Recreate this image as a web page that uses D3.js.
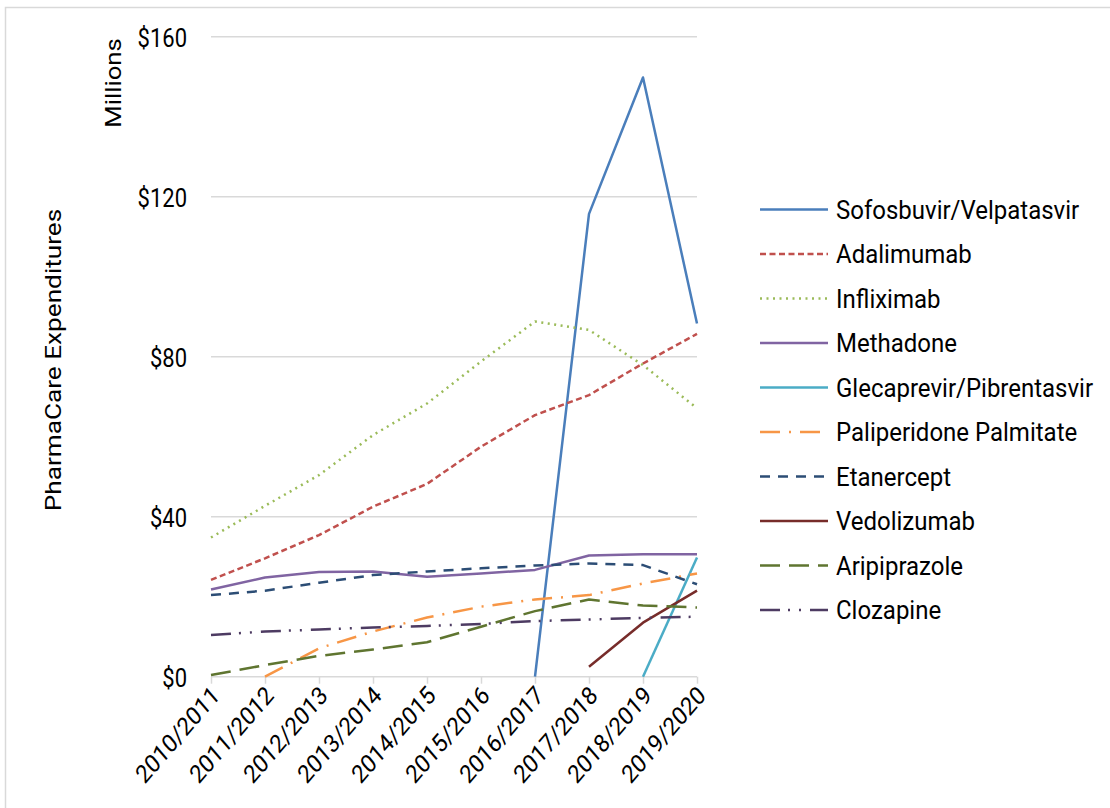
<!DOCTYPE html>
<html>
<head>
<meta charset="utf-8">
<script src="https://cdn.jsdelivr.net/npm/d3@7"></script>
<style>
  html, body { margin: 0; padding: 0; background: #fff; }
  svg { display: block; font-family: Roboto, "Noto Sans", sans-serif; }
</style>
</head>
<body>
<svg id="chart" width="1110" height="808"></svg>
<script>
// Fiscal years on the category axis
const years = ["2010/2011", "2011/2012", "2012/2013", "2013/2014", "2014/2015",
               "2015/2016", "2016/2017", "2017/2018", "2018/2019", "2019/2020"];

// Y-axis tick values (millions of dollars)
const yTicks = [0, 40, 80, 120, 160];

// Expenditures per drug, in millions (null = no spending reported)
const sofosbuvirVelpatasvir = [null, null, null, null, null, null, 0, 115.7, 149.8, 88.3];
const adalimumab            = [24.2, 29.6, 35.4, 42.5, 48.2, 57.5, 65.4, 70.4, 78.3, 85.7];
const infliximab            = [34.8, 42.7, 50.4, 60.4, 68.3, 78.8, 88.8, 86.7, 77.9, 67.1];
const methadone             = [21.8, 24.8, 26.2, 26.3, 25.0, 25.8, 26.7, 30.3, 30.6, 30.6];
const glecaprevirPibrentasvir = [null, null, null, null, null, null, null, null, 0, 29.8];
const paliperidonePalmitate = [null, 0, 7.1, 11.3, 14.8, 17.5, 19.3, 20.4, 23.3, 25.8];
const etanercept            = [20.4, 21.5, 23.5, 25.4, 26.3, 27.1, 27.8, 28.3, 27.9, 23.1];
const vedolizumab           = [null, null, null, null, null, null, null, 2.5, 13.5, 21.5];
const aripiprazole          = [0.4, 2.9, 5.2, 6.8, 8.6, 12.5, 16.4, 19.3, 17.8, 17.3];
const clozapine             = [10.4, 11.3, 11.8, 12.3, 12.7, 13.2, 13.9, 14.3, 14.7, 15.0];

const seriesNames = ["Sofosbuvir/Velpatasvir", "Adalimumab", "Infliximab", "Methadone",
  "Glecaprevir/Pibrentasvir", "Paliperidone Palmitate", "Etanercept", "Vedolizumab",
  "Aripiprazole", "Clozapine"];
const seriesValues = [sofosbuvirVelpatasvir, adalimumab, infliximab, methadone,
  glecaprevirPibrentasvir, paliperidonePalmitate, etanercept, vedolizumab,
  aripiprazole, clozapine];

// Line styles for each series
const styles = [
  { color: "#4a7ebb", dash: null },
  { color: "#c0504d", dash: "6,3.5" },
  { color: "#9bbb59", dash: "2,4.5" },
  { color: "#8064a2", dash: null },
  { color: "#4bacc6", dash: null },
  { color: "#f79646", dash: "20,9,2,9" },
  { color: "#2c4d75", dash: "10,8" },
  { color: "#772c2a", dash: null },
  { color: "#5f7530", dash: "20,9" },
  { color: "#4d3b62", dash: "20,8,2,9,2,9" }
];

const svg = d3.select("#chart");

// Outer chart frame
svg.append("rect")
  .attr("x", 5.5).attr("y", 7.5)
  .attr("width", 1120).attr("height", 820)
  .attr("fill", "none").attr("stroke", "#d9d9d9").attr("stroke-width", 1.5);

const plot = { left: 211, right: 697, top: 36.7, bottom: 676.7 };

const x = d3.scalePoint().domain(years).range([plot.left, plot.right]);
const y = d3.scaleLinear().domain([0, 160]).range([plot.bottom, plot.top]);

// Horizontal gridlines
svg.append("g")
  .selectAll("line")
  .data(yTicks.filter(d => d > 0))
  .join("line")
  .attr("x1", plot.left).attr("x2", plot.right)
  .attr("y1", d => y(d)).attr("y2", d => y(d))
  .attr("stroke", "#d9d9d9").attr("stroke-width", 1.5);

// Y axis labels (tall, narrow lettering)
const yAxis = d3.axisLeft(y).tickValues(yTicks).tickSize(0).tickPadding(24)
  .tickFormat(d => "$" + d);
const yg = svg.append("g").attr("transform", `translate(${plot.left},0)`).call(yAxis);
yg.select(".domain").remove();
yg.selectAll("text")
  .attr("font-family", "Roboto, sans-serif")
  .attr("font-size", 22)
  .attr("fill", "#000")
  .attr("dy", "0.36em")
  .attr("transform", "scale(1,1.2)");

// X axis with tick marks
const xAxis = d3.axisBottom(x).tickSize(7).tickPadding(6);
const xg = svg.append("g").attr("transform", `translate(0,${plot.bottom})`).call(xAxis);
xg.select(".domain").attr("stroke", "#d9d9d9").attr("stroke-width", 1.5)
  .attr("d", `M${plot.left},0H${plot.right}`);
xg.selectAll(".tick line").attr("stroke", "#d9d9d9").attr("stroke-width", 1.5);
xg.selectAll("text")
  .attr("font-family", "Roboto, sans-serif")
  .attr("font-size", 22)
  .attr("fill", "#000")
  .attr("text-anchor", "end")
  .attr("x", 0).attr("y", 0)
  .attr("dy", "0.35em")
  .attr("transform", "translate(4,14) scale(1,1.15) rotate(-45)");

// Axis titles
svg.append("text")
  .attr("transform", "translate(61,360) scale(1,1.19) rotate(-90)")
  .attr("text-anchor", "middle")
  .attr("font-size", 22)
  .attr("fill", "#000")
  .text("PharmaCare Expenditures");

svg.append("text")
  .attr("transform", "translate(121,83) scale(1,1.17) rotate(-90)")
  .attr("text-anchor", "middle")
  .attr("font-size", 22)
  .attr("fill", "#000")
  .text("Millions");

// Series lines
const line = d3.line()
  .defined(d => d.v !== null)
  .x(d => x(d.year))
  .y(d => y(d.v));

const lines = svg.append("g");
seriesNames.forEach((name, i) => {
  const pts = years.map((yr, j) => ({ year: yr, v: seriesValues[i][j] }));
  lines.append("path")
    .datum(pts)
    .attr("d", line)
    .attr("fill", "none")
    .attr("stroke", styles[i].color)
    .attr("stroke-width", 2.5)
    .attr("stroke-linejoin", "round")
    .attr("stroke-dasharray", styles[i].dash);
});

// Legend
const legend = svg.append("g");
const legendY = d3.scalePoint().domain(seriesNames).range([209.5, 610]);
seriesNames.forEach((name, i) => {
  const ly = legendY(name);
  legend.append("line")
    .attr("x1", 760).attr("x2", 828)
    .attr("y1", ly).attr("y2", ly)
    .attr("stroke", styles[i].color)
    .attr("stroke-width", 2.5)
    .attr("stroke-dasharray", styles[i].dash);
  legend.append("text")
    .attr("transform", `translate(836,${ly}) scale(1,1.05)`)
    .attr("dy", "0.36em")
    .attr("font-size", 24)
    .attr("fill", "#000")
    .text(name);
});
</script>
</body>
</html>
